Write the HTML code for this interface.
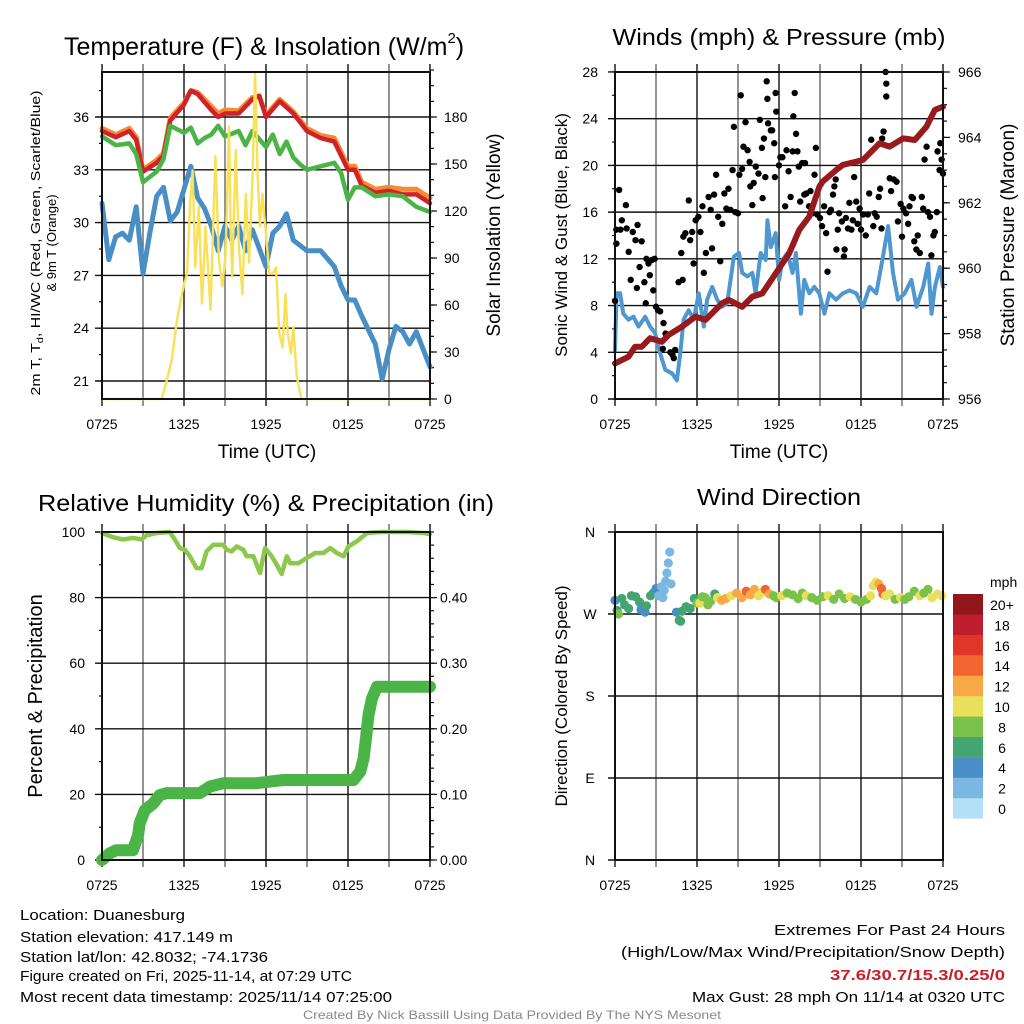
<!DOCTYPE html>
<html><head><meta charset="utf-8"><title>Mesonet Station Meteogram - Duanesburg</title>
<style>
html,body{margin:0;padding:0;background:#fff;}
svg{display:block;font-family:"Liberation Sans",Arial,sans-serif;}
</style></head>
<body>
<svg id="chart" width="1024" height="1024" viewBox="0 0 1024 1024" xmlns="http://www.w3.org/2000/svg">
<rect x="0" y="0" width="1024" height="1024" fill="#fff"/>
</svg>
<script>
// ---------- Panel 1: temperature & insolation ----------
const redH = [0,1,2,2.5,3,4,4.5,5,6,6.5,7,8,8.5,9,10,11,11.5,12,13,14,15,16,17,18,18.5,19,20,21,22,23,24];
const redT = [35.2,34.85,35.2,34.7,32.9,33.4,33.8,35.8,36.7,37.5,37.3,36.4,36.0,36.2,36.2,37.0,37.2,36.0,36.9,36.2,35.2,34.8,34.6,33.0,33.0,32.1,31.7,31.8,31.6,31.6,31.1];
const orangeT = [35.35,35.0,35.35,34.85,33.0,33.55,33.95,35.95,36.8,37.5,37.4,36.6,36.2,36.4,36.35,37.1,37.2,36.1,37.0,36.3,35.35,34.95,34.8,33.2,33.2,32.3,31.9,32.0,31.9,31.9,31.4];
const greenH = [0,1,2,2.5,3,4,4.5,5,6,6.5,7,7.5,8,8.5,9,10,10.5,11,12,12.5,13,13.5,14,14.5,15,16,17,17.5,18,18.5,19,20,21,22,23,24];
const greenT = [34.9,34.4,34.5,33.9,32.3,32.9,33.6,35.5,35.1,35.4,34.5,34.8,35.0,35.5,34.9,35.2,34.4,35.2,34.3,35.0,33.9,34.6,33.7,33.3,33.0,33.2,33.4,32.8,31.3,32.0,32.0,31.5,31.6,31.5,30.9,30.6];
const dewH = [0,0.5,1,1.5,2,2.5,3,3.5,4,4.5,5,5.5,6,6.5,7,7.5,8,8.5,9,9.5,10,10.5,11,12,12.5,13,13.5,14,15,16,17,17.5,18,18.5,19,20,20.5,21,21.5,22,22.5,23,23.5,24];
const dewT = [31.1,27.9,29.2,29.4,29.0,30.9,27.1,29.4,31.5,32.0,30.1,30.6,31.9,33.2,31.4,30.8,29.8,28.4,29.8,29.0,29.8,28.4,29.6,27.5,29.4,29.8,30.5,29.0,28.4,28.4,27.5,26.4,25.6,25.6,24.7,23.1,21.1,22.8,24.1,23.8,23.1,23.8,22.8,21.8];
const solarH = [0,4.37,4.74,5.11,5.48,5.72,5.97,6.22,6.46,6.63,6.83,7.08,7.32,7.57,7.94,8.30,8.55,8.80,9.04,9.29,9.41,9.53,9.78,10.02,10.27,10.52,10.76,11.01,11.20,11.38,11.55,11.74,11.99,12.24,12.48,12.73,12.97,13.22,13.42,13.59,13.83,14.0,14.25,14.6,24];
const solarW = [0,0,12,25,50,61,72,80,127,146,84,123,61,110,57,155,89,72,91,174,110,78,159,97,67,131,87,142,208,146,110,131,106,80,80,84,42,33,67,42,29,46,14,0,0];
const tempTicks = [21,24,27,30,33,36];
const solarTicks = [0,30,60,90,120,150,180];
// ---------- Panel 2: winds & pressure ----------
const presH = [0,0.98,1.47,1.96,2.57,3.43,3.92,4.90,5.88,6.62,7.84,8.33,9.31,10.05,10.78,11.76,12.75,13.48,14.22,14.95,15.2,16.18,16.67,18.14,19.36,20.1,21.08,21.94,22.79,23.4,24];
const presMb = [957.09,957.29,957.6,957.6,957.86,957.75,957.96,958.21,958.52,958.42,958.93,959.03,958.82,959.13,959.23,959.84,960.46,961.17,961.58,962.49,962.65,963.0,963.16,963.31,963.82,963.72,963.97,963.92,964.33,964.84,964.94];
const windH = [0,0.12,0.37,0.61,0.98,1.35,1.72,2.21,2.57,2.94,3.31,3.68,4.17,4.53,4.78,5.02,5.39,5.76,6.13,6.50,6.74,7.11,7.48,7.84,8.21,8.70,9.07,9.31,9.68,10.05,10.29,10.66,11.03,11.15,11.40,11.76,12.01,12.25,12.62,12.99,13.24,13.60,13.85,14.22,14.58,14.95,15.32,15.69,16.18,16.67,17.16,17.65,18.14,18.63,19.12,19.61,19.98,20.34,20.71,21.2,21.69,22.06,22.55,22.92,23.16,23.41,23.77,24];
const windMph = [4.2,9.05,9.05,7.3,6.8,7.05,6.2,7.05,6.2,5.6,3.9,2.5,2.2,1.6,3.9,6.8,7.6,6.8,9.05,6.2,8.5,9.6,8.5,7.9,8.2,12.2,12.5,10.8,10.5,10.8,9.05,12.5,11.9,15.3,13.0,14.2,10.2,11.9,12.5,10.8,12.5,7.3,10.2,9.05,9.6,9.05,7.3,9.05,8.5,9.05,9.3,9.05,7.9,9.6,9.05,12.2,14.8,10.8,8.5,9.05,10.2,7.9,9.6,11.6,7.3,9.6,11.3,9.6];
const gustH = [0,0.1,0.1,0.3,0.4,0.5,0.8,0.85,1.0,1.15,1.3,1.5,1.6,1.65,1.8,1.95,2.15,2.25,2.3,2.45,2.55,2.7,2.8,2.9,3.0,3.15,3.3,3.55,3.7,3.5,4.05,4.2,4.4,4.3,4.65,4.85,4.95,5.0,5.15,5.4,5.5,5.65,5.75,5.9,6.1,6.25,6.4,6.5,6.65,6.85,7.0,7.1,7.25,7.4,7.55,7.7,7.85,8.0,8.15,8.3,8.45,8.6,8.7,8.8,9.0,9.1,9.2,9.3,9.4,9.55,9.7,9.85,9.9,10.05,10.15,10.3,10.5,10.6,10.75,10.8,10.9,11.0,11.1,11.15,11.2,11.4,11.5,11.65,11.7,11.75,11.8,12.0,12.1,12.25,12.45,12.55,12.7,12.85,13.0,13.05,13.15,13.25,13.35,13.45,13.55,13.7,13.85,13.9,14.0,14.2,14.3,14.45,14.6,14.7,14.8,15.0,15.15,15.3,15.45,15.55,15.7,15.8,15.95,16.05,16.15,16.2,16.3,16.4,16.6,16.75,16.8,16.9,17.05,17.15,17.3,17.4,17.5,17.65,17.75,17.9,18.0,18.15,18.35,18.5,18.6,18.75,18.9,19.0,19.15,19.3,19.4,19.5,19.55,19.65,19.8,19.85,19.85,20.1,20.2,20.4,20.6,20.7,20.9,21.0,21.1,21.3,21.45,21.55,21.7,21.8,21.9,22.05,22.15,22.3,22.45,22.55,22.65,22.8,22.9,23.05,23.15,23.3,23.4,23.55,23.6,23.75,23.8,23.9,24.0];
const gustMph = [8.4,14.5,13.3,17.9,14.5,15.3,16.6,14.6,12.6,10.2,14.3,13.6,9.5,14.9,11.3,13.5,10.0,8.2,12.0,11.6,10.6,11.9,9.3,12.0,7.9,7.6,7.5,6.5,5.6,4.3,4.0,3.8,4.2,3.5,10.0,12.5,10.2,13.9,14.2,17.0,13.6,14.3,11.6,15.3,15.6,14.3,16.5,10.8,12.5,17.3,16.2,12.9,17.5,19.2,15.6,11.8,15.0,17.6,16.3,18.0,16.2,19.6,23.3,16.0,15.9,19.2,26.0,19.7,21.6,23.7,21.3,20.3,18.2,16.6,18.5,19.9,19.3,23.9,21.5,17.2,22.3,19.0,27.2,25.7,23.6,23.0,23.0,21.9,19.0,26.2,24.6,20.0,20.7,20.7,16.5,21.3,19.5,17.3,21.2,24.2,26.2,22.7,21.2,19.9,16.9,20.2,17.5,20.2,17.6,16.5,17.8,15.9,19.2,21.5,15.8,15.5,14.8,16.5,14.2,10.9,16.0,16.2,17.5,18.2,18.8,12.8,14.5,15.9,15.2,12.2,12.8,15.5,14.6,16.8,14.5,15.3,19.0,16.9,15.0,16.3,14.5,15.8,14.0,15.8,17.6,22.2,14.8,15.9,15.6,17.3,18.0,14.6,22.3,22.9,28.0,25.9,27.0,18.9,17.8,18.8,18.6,15.2,16.7,13.9,16.3,15.9,15.0,16.5,17.3,17.2,13.5,12.8,14.0,12.5,17.3,16.3,20.5,21.6,16.0,15.6,12.3,14.0,14.3,16.0,21.2,19.6,21.9,20.5,19.3];
const windTicks = [0,4,8,12,16,20,24,28];
const presTicks = [956,958,960,962,964,966];
// ---------- Panel 3: RH & precip ----------
const rhH = [0,0.8,1.54,2.27,2.89,3.25,3.99,4.96,5.33,5.7,6.06,6.43,6.92,7.29,7.65,8.14,8.88,9.12,9.49,9.85,10.34,10.59,11.08,11.56,11.93,12.42,12.79,13.15,13.52,13.77,14.38,14.99,15.6,16.21,16.7,17.19,17.68,18.04,18.66,19.39,20.37,22.32,23.55,24];
const rhPct = [99.7,98.4,97.7,98.2,97.7,99.0,99.7,100,97.7,95.1,94.6,92.6,89.0,89.0,94.1,96.1,96.1,94.6,94.1,95.6,94.6,92.6,92.6,87.5,95.1,92.6,90.0,87.2,92.6,90.5,90.5,92.1,93.6,93.6,95.1,93.6,92.6,95.6,97.2,99.7,100,100,99.7,99.4];
const precipH = [0,0.56,1.05,2.27,2.64,2.76,3.13,3.74,4.23,4.72,7.16,7.9,8.88,11.3,13.28,18.4,18.9,19.14,19.34,19.5,19.75,20.12,24];
const precipIn = [0,0.010,0.015,0.015,0.038,0.056,0.076,0.086,0.099,0.102,0.102,0.112,0.117,0.117,0.122,0.122,0.135,0.155,0.19,0.221,0.246,0.264,0.264];
const rhTicks = [0,20,40,60,80,100];
const precipTicks = ["0.00","0.10","0.20","0.30","0.40"];
// ---------- Panel 4: wind direction ----------
const dirH = [0,0.15,0.25,0.5,0.7,1.0,1.2,1.5,1.8,1.9,2.2,2.3,2.6,2.8,3.0,3.2,3.4,3.5,3.6,3.7,3.8,3.9,4.0,4.1,4.5,4.7,4.8,4.9,5.2,5.5,5.8,6.0,6.2,6.4,6.6,6.8,7.0,7.3,7.5,7.8,8.1,8.5,8.9,9.3,9.6,9.9,10.2,10.5,10.8,11.0,11.3,11.6,11.8,12.2,12.6,13.0,13.4,13.7,14.0,14.4,14.8,15.2,15.6,16.0,16.4,16.8,17.2,17.6,18.0,18.4,18.7,18.9,19.1,19.3,19.5,19.6,19.8,20.1,20.5,20.9,21.2,21.5,21.9,22.3,22.6,22.9,23.2,23.6,23.9];
const dirDeg = [285,274,270,287,280,276,290,289,283,275,272,279,290,293,298,290,300,288,296,306,315,326,338,303,272,263,262,273,278,276,287,282,282,289,288,280,284,292,288,285,287,290,293,288,295,291,297,290,294,297,292,290,288,290,293,291,287,293,290,288,285,289,290,286,292,287,289,286,283,286,290,301,305,303,298,292,290,292,286,288,286,289,295,290,293,297,288,292,290];
const dirSpd = [4.5,7,8.5,6.5,7,6,6.5,7,6.5,5,4.5,6.5,7,6.5,4.5,3.5,3,3,2.5,3,2.5,2.5,2.5,3,4.5,6,6.5,6,6.5,7,7,9,10,8,8,8,8,6.5,10,12,12,10,12,13,14,13,12,11,10,14.5,13,9,9,10,8.5,9,8,8,10,9,8,8,10,8,9,8.5,10,9,8,8,10,10,10,12,15,15,10,11,9,10,8,9,8,10,9,8,10,10,10];
const dirTicks = ["N","E","S","W","N"];
const speedBinLabels = ["0","2","4","6","8","10","12","14","16","18","20+"];
const timeLabels = ["0725","1325","1925","0125","0725"];

const NS = 'http://www.w3.org/2000/svg';
const svg = document.getElementById('chart');
function mk(tag, attrs, name, parent) {
  const el = document.createElementNS(NS, tag);
  for (const k in attrs) el.setAttribute(k, attrs[k]);
  
  
  (parent || svg).appendChild(el);
  return el;
}
function txt(x, y, s, size, anchor, name, extra, parent) {
  const a = {x: x, y: y, 'font-size': size, 'text-anchor': anchor || 'start', fill: '#000'};
  if (extra) for (const k in extra) a[k] = extra[k];
  const t = mk('text', a, name, parent);
  t.textContent = s;
  return t;
}
function poly(xs, ys, color, w, name, g) {
  let d = '';
  for (let i = 0; i < xs.length; i++) d += (i ? 'L' : 'M') + xs[i].toFixed(1) + ' ' + ys[i].toFixed(1);
  return mk('path', {d: d, fill: 'none', stroke: color, 'stroke-width': w, 'stroke-linejoin': 'round', 'stroke-linecap': 'round'}, name, g);
}
const X0L = 102, X0R = 615, PW = 328;
function xL(h) { return X0L + h * PW / 24; }
function xR(h) { return X0R + h * PW / 24; }
const yTemp = v => 381 - (v - 21) * 17.6;
const ySolar = v => 399 - v * 47 / 30;
const yWind = v => 399 - v * 11.68;
const yPres = v => 399 - (v - 956) * 32.7;
const yRH = v => 860 - v * 3.28;
const yIn = v => 860 - v * 656;
const yDir = d => 860 - d * 328 / 360;

function panel(x0, y0, x1, y1, xf, name) {
  const g = mk('g', {}, name);
  for (let h = 0; h <= 24; h += 3) {
    const x = xf(h);
    mk('line', {x1: x, y1: y0 - 8, x2: x, y2: y1 + 7, stroke: (h % 6 === 0) ? '#111' : '#666', 'stroke-width': 1.4}, 'x-gridline', g);
  }
  timeLabels.forEach((s, i) => txt(xf(i * 6), y1 + 30, s, 14, 'middle', 'x-tick-label', null, g));
  return g;
}
function hgrid(g, x0, x1, ys, color) {
  ys.forEach(y => mk('line', {x1: x0 - 7, y1: y, x2: x1, y2: y, stroke: color || '#111', 'stroke-width': 1.4}, 'y-gridline', g));
}
function ticksRight(g, x1, vals, yf, len) {
  vals.forEach(v => mk('line', {x1: x1, y1: yf(v), x2: x1 + len, y2: yf(v), stroke: '#111', 'stroke-width': 1.2}, 'y-tick', g));
}
function ticksLeft(g, x0, vals, yf, len) {
  vals.forEach(v => mk('line', {x1: x0 - len, y1: yf(v), x2: x0, y2: yf(v), stroke: '#111', 'stroke-width': 1.2}, 'y-tick', g));
}
function frame(g, x0, y0, x1, y1) {
  mk('rect', {x: x0, y: y0, width: x1 - x0, height: y1 - y0, fill: 'none', stroke: '#111', 'stroke-width': 2}, 'plot-frame', g);
}
function range(a, b, s) { const r = []; for (let v = a; v <= b + 1e-9; v += s) r.push(v); return r; }

// ===== Panel 1 =====
const p1 = panel(102, 72, 430, 399, xL, 'temperature-panel');
hgrid(p1, 102, 430, tempTicks.map(yTemp));
ticksLeft(p1, 102, range(21, 37.5, 1.5), yTemp, 3);
ticksRight(p1, 430, range(0, 210, 10), ySolar, 4);
ticksRight(p1, 430, solarTicks, ySolar, 7);
tempTicks.forEach(v => txt(89, yTemp(v) + 5, String(v), 14, 'end', 'y-tick-label', null, p1));
solarTicks.forEach(v => txt(444, ySolar(v) + 5, String(v), 14, 'start', 'y2-tick-label', null, p1));
poly(dewH.map(xL), dewT.map(yTemp), '#4a8ec6', 5, 'dewpoint-line', p1);
poly(redH.map(xL), orangeT.map(yTemp), '#f58a33', 5, 'temp-9m-line', p1);
poly(redH.map(xL), redT.map(yTemp), '#d0222a', 4.5, 'temp-2m-line', p1);
poly(greenH.map(xL), greenT.map(yTemp), '#4bb447', 4.5, 'windchill-line', p1);
poly(solarH.map(xL), solarW.map(ySolar), '#f8e157', 2.4, 'solar-line', p1);
frame(p1, 102, 72, 430, 399);
const t1 = mk('text', {x: 64, y: 55, 'font-size': 25, 'text-anchor': 'start'}, 'temperature-title');
t1.innerHTML = 'Temperature (F) &amp; Insolation (W/m<tspan font-size="15" dy="-12">2</tspan><tspan dy="12">)</tspan>';
txt(267, 458, 'Time (UTC)', 19, 'middle', 'x-axis-title');
const yl1 = mk('text', {transform: 'translate(40,243) rotate(-90)', 'font-size': 13, 'text-anchor': 'middle', textLength: 305, lengthAdjust: 'spacingAndGlyphs'}, 'y-axis-title');
yl1.innerHTML = '2m T, T<tspan font-size="9" dy="3">d</tspan><tspan dy="-3">, HI/WC (Red, Green, Scarlet/Blue)</tspan>';
txt(0, 0, '& 9m T (Orange)', 13, 'middle', 'y-axis-title-line2', {transform: 'translate(56,243) rotate(-90)'});
txt(0, 0, 'Solar Insolation (Yellow)', 19, 'middle', 'y2-axis-title', {transform: 'translate(500,235) rotate(-90)'});

// ===== Panel 2 =====
const p2 = panel(615, 72, 943, 399, xR, 'winds-panel');
hgrid(p2, 615, 943, windTicks.map(yWind));
ticksLeft(p2, 615, range(0, 28, 2), yWind, 3);
ticksRight(p2, 943, range(956, 966, 0.5), yPres, 4);
ticksRight(p2, 943, presTicks, yPres, 7);
windTicks.forEach(v => txt(598, yWind(v) + 5, String(v), 14, 'end', 'y-tick-label', null, p2));
presTicks.forEach(v => txt(958, yPres(v) + 5, String(v), 14, 'start', 'y2-tick-label', null, p2));
poly(windH.map(xR), windMph.map(yWind), '#4f97d1', 4, 'wind-speed-line', p2);
const gg = mk('g', {}, 'gust-points', p2);
for (let i = 0; i < gustH.length; i++) {
  const c = document.createElementNS(NS, 'circle');
  c.setAttribute('cx', xR(gustH[i]));
  c.setAttribute('cy', yWind(gustMph[i]));
  c.setAttribute('r', 3.2);
  c.setAttribute('fill', '#000');
  
  
  gg.appendChild(c);
}
poly(presH.map(xR), presMb.map(yPres), '#971b1e', 6, 'pressure-line', p2);
frame(p2, 615, 72, 943, 399);
txt(779, 45, 'Winds (mph) & Pressure (mb)', 23, 'middle', 'winds-title', {textLength: 333, lengthAdjust: 'spacingAndGlyphs'});
txt(779, 458, 'Time (UTC)', 19, 'middle', 'x-axis-title');
txt(0, 0, 'Sonic Wind & Gust (Blue, Black)', 17, 'middle', 'y-axis-title', {transform: 'translate(567,235) rotate(-90)'});
txt(0, 0, 'Station Pressure (Maroon)', 19, 'middle', 'y2-axis-title', {transform: 'translate(1014,235) rotate(-90)'});

// ===== Panel 3 =====
const p3 = panel(102, 532, 430, 860, xL, 'humidity-panel');
hgrid(p3, 102, 430, rhTicks.map(yRH));
ticksLeft(p3, 102, range(0, 100, 10), yRH, 3);
ticksRight(p3, 430, range(0, 0.5, 0.02), yIn, 4);
ticksRight(p3, 430, precipTicks.map(Number), yIn, 7);
rhTicks.forEach(v => txt(85, yRH(v) + 5, String(v), 14, 'end', 'y-tick-label', null, p3));
precipTicks.forEach(v => txt(440, yIn(Number(v)) + 5, v, 14, 'start', 'y2-tick-label', null, p3));
poly(rhH.map(xL), rhPct.map(yRH), '#8cc84b', 4.5, 'rh-line', p3);
poly(precipH.map(xL), precipIn.map(yIn), '#4bb447', 12, 'precip-line', p3);
frame(p3, 102, 532, 430, 860);
txt(266, 511, 'Relative Humidity (%) & Precipitation (in)', 23, 'middle', 'humidity-title', {textLength: 456, lengthAdjust: 'spacingAndGlyphs'});
txt(0, 0, 'Percent & Precipitation', 20, 'middle', 'y-axis-title', {transform: 'translate(42,696) rotate(-90)'});

// ===== Panel 4 =====
const p4 = panel(615, 532, 943, 860, xR, 'direction-panel');
const dirVals = [0, 90, 180, 270, 360];
hgrid(p4, 615, 943, dirVals.map(yDir));
dirTicks.forEach((s, i) => txt(590, yDir(dirVals[i]) + 5, s, 14, 'middle', 'y-tick-label', null, p4));
const speedColors = ['#b3e0f7', '#7ab8e3', '#4a8ec6', '#45a572', '#7bc24a', '#e8e05a', '#f8a945', '#f26430', '#e0362a', '#be1e2d', '#92171b'];
const dg = mk('g', {}, 'direction-points', p4);
for (let i = 0; i < dirH.length; i++) {
  const bin = Math.min(10, Math.floor(dirSpd[i] / 2));
  const c = document.createElementNS(NS, 'circle');
  c.setAttribute('cx', xR(dirH[i]));
  c.setAttribute('cy', yDir(dirDeg[i]));
  c.setAttribute('r', 4.6);
  c.setAttribute('fill', speedColors[bin]);
  
  
  dg.appendChild(c);
}
frame(p4, 615, 532, 943, 860);
txt(779, 505, 'Wind Direction', 23, 'middle', 'direction-title', {textLength: 164, lengthAdjust: 'spacingAndGlyphs'});
txt(0, 0, 'Direction (Colored By Speed)', 17, 'middle', 'y-axis-title', {transform: 'translate(567,696) rotate(-90)'});
const lg = mk('g', {}, 'speed-legend');
txt(990, 587, 'mph', 14, 'start', 'legend-title', null, lg);
for (let i = 0; i < 11; i++) {
  const y = 594 + (10 - i) * 20.4;
  mk('rect', {x: 953, y: y, width: 30, height: 20.6, fill: speedColors[i]}, 'legend-swatch', lg);
  txt(1002, y + 16, speedBinLabels[i], 14, 'middle', 'legend-label', null, lg);
}

// ===== footer =====
const ft = mk('g', {}, 'footer-info');
const leftLines = ['Location: Duanesburg', 'Station elevation: 417.149 m', 'Station lat/lon: 42.8032; -74.1736', 'Figure created on Fri, 2025-11-14, at 07:29 UTC', 'Most recent data timestamp: 2025/11/14 07:25:00'];
const leftW = [165, 213, 248, 332, 372];
const leftY = [920, 942, 962, 981, 1002];
leftLines.forEach((s, i) => txt(20, leftY[i], s, 15, 'start', 'station-info-line', {textLength: leftW[i], lengthAdjust: 'spacingAndGlyphs'}, ft));
txt(1005, 935, 'Extremes For Past 24 Hours', 15, 'end', 'extremes-heading', {textLength: 231, lengthAdjust: 'spacingAndGlyphs'}, ft);
txt(1005, 957, '(High/Low/Max Wind/Precipitation/Snow Depth)', 15, 'end', 'extremes-legend', {textLength: 384, lengthAdjust: 'spacingAndGlyphs'}, ft);
txt(1005, 980, '37.6/30.7/15.3/0.25/0', 15, 'end', 'extremes-values', {textLength: 175, lengthAdjust: 'spacingAndGlyphs', fill: '#c8202a', 'font-weight': 'bold'}, ft);
txt(1005, 1002, 'Max Gust: 28 mph On 11/14 at 0320 UTC', 15, 'end', 'max-gust', {textLength: 313, lengthAdjust: 'spacingAndGlyphs'}, ft);
txt(512, 1019, 'Created By Nick Bassill Using Data Provided By The NYS Mesonet', 12, 'middle', 'credits', {textLength: 418, lengthAdjust: 'spacingAndGlyphs', fill: '#888'}, ft);
</script>
</body></html>
